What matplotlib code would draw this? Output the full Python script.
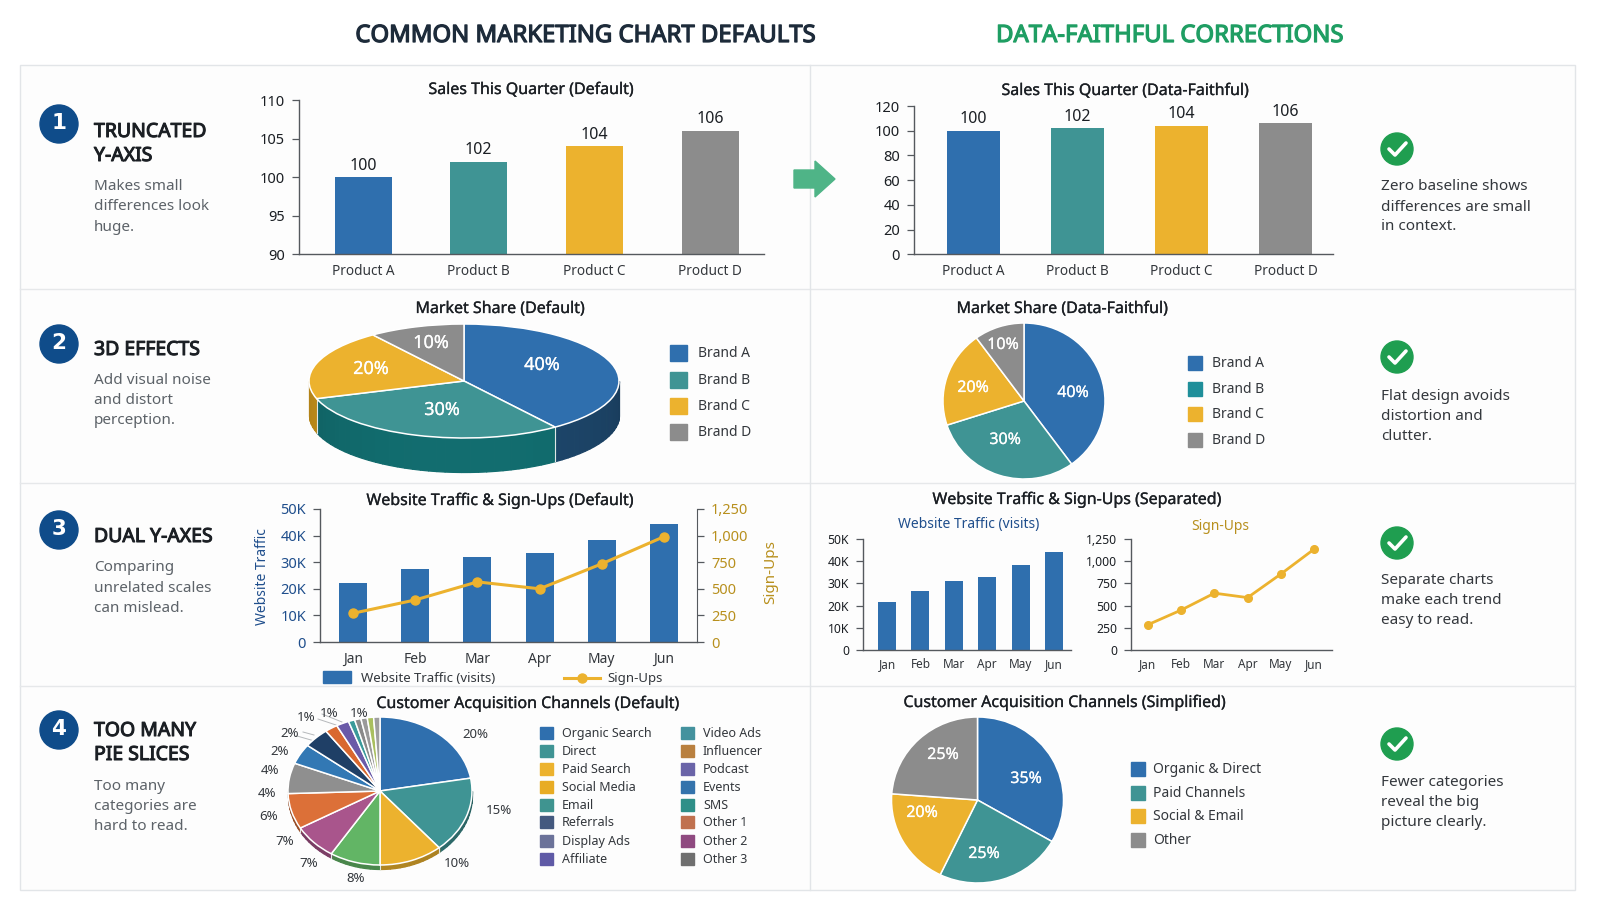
"""Four-row comparison sheet: common marketing chart defaults next to corrected versions."""

import matplotlib
matplotlib.use("Agg")
import matplotlib.patheffects as pe
import matplotlib.pyplot as plt
import numpy as np
from matplotlib.colors import to_rgb
from matplotlib.patches import Circle, Polygon, Rectangle

plt.rcParams["font.family"] = ["Noto Sans", "DejaVu Sans"]

W, H = 1600, 905

BLUE = "#2f6fae"
TEAL = "#3f9494"
YELLOW = "#ecb22e"
GRAY = "#8c8c8c"
NAVY = "#1f4e8c"
GOLD = "#b8901e"
INK = "#1b1f24"
MUTED = "#5c6268"
AXIS = "#55595e"

products = ["Product A", "Product B", "Product C", "Product D"]
sales = [100, 102, 104, 106]
product_colors = [BLUE, TEAL, YELLOW, GRAY]

brands = ["Brand A", "Brand B", "Brand C", "Brand D"]
brand_share = [40, 30, 20, 10]
brand_colors = [BLUE, TEAL, YELLOW, GRAY]
brand_sides = ["#1c4467", "#11696b", "#c4901a", "#6d6d6d"]
brand_legend = [BLUE, "#1f8f9a", YELLOW, GRAY]

months = ["Jan", "Feb", "Mar", "Apr", "May", "Jun"]
traffic_default = [22000, 27500, 32000, 33500, 38500, 44500]
signups_default = [270, 395, 565, 500, 735, 990]
traffic_separate = [21500, 26700, 31300, 33000, 38500, 44200]
signups_separate = [285, 450, 640, 590, 855, 1135]
traffic_ticks = [0, 10000, 20000, 30000, 40000, 50000]
traffic_ticklabels = ["0", "10K", "20K", "30K", "40K", "50K"]
signup_ticks = [0, 250, 500, 750, 1000, 1250]
signup_ticklabels = ["0", "250", "500", "750", "1,000", "1,250"]

channels = ["Organic Search", "Direct", "Paid Search", "Social Media", "Email", "Referrals",
            "Display Ads", "Affiliate", "Video Ads", "Influencer", "Podcast", "Events",
            "SMS", "Other 1", "Other 2", "Other 3"]
channel_legend = ["#2f6fae", "#3f9494", "#ecb22e", "#e8ac24", "#3f9490", "#44597f",
                  "#6b7299", "#5f5aa6", "#44929e", "#b9803f", "#6a64a8", "#3473ac",
                  "#2f8f88", "#c0714f", "#8f4a80", "#6f6f6f"]
channel_share = [20, 15, 10, 8, 7, 7, 6, 4, 4, 2, 2, 1, 1, 1, 1, 1]
channel_colors = ["#2f6fae", "#3f9494", "#ecb22e", "#62b565", "#a9558c", "#dc7038",
                  "#8f8f8f", "#3278b4", "#1f3f66", "#d9682f", "#6a5aa8", "#3a9a9a",
                  "#8a8a8a", "#9a9a9a", "#a9bf5f", "#9f9f9f"]
channel_labelled = 14

simple_channels = ["Organic & Direct", "Paid Channels", "Social & Email", "Other"]
simple_share = [35, 25, 20, 25]
simple_colors = [BLUE, TEAL, YELLOW, GRAY]

row_titles = [["TRUNCATED", "Y-AXIS"], ["3D EFFECTS"], ["DUAL Y-AXES"], ["TOO MANY", "PIE SLICES"]]
row_notes = [["Makes small", "differences look", "huge."],
             ["Add visual noise", "and distort", "perception."],
             ["Comparing", "unrelated scales", "can mislead."],
             ["Too many", "categories are", "hard to read."]]
fix_notes = [["Zero baseline shows", "differences are small", "in context."],
             ["Flat design avoids", "distortion and", "clutter."],
             ["Separate charts", "make each trend", "easy to read."],
             ["Fewer categories", "reveal the big", "picture clearly."]]

# the installed Noto Sans has one weight, so a thin stroke stands in for heavier text
MEDIUM = [pe.withStroke(linewidth=0.2, foreground=INK)]
MEDIUM_WHITE = [pe.withStroke(linewidth=0.15, foreground="white")]
HEADING = [pe.withStroke(linewidth=0.75, foreground=INK)]


def panel(fig, x0, y0, x1, y1):
    """Add axes from pixel corners, y measured down from the top of the figure."""
    return fig.add_axes([x0 / W, 1 - y1 / H, (x1 - x0) / W, (y1 - y0) / H])


def style_axis(ax, size=10.5, color=INK):
    for side in ("top", "right"):
        ax.spines[side].set_visible(False)
    for side in ("left", "bottom"):
        ax.spines[side].set_color(AXIS)
        ax.spines[side].set_linewidth(1.0)
    ax.patch.set_alpha(0)
    ax.tick_params(axis="y", length=5, width=0.9, color=AXIS, labelsize=size, labelcolor=color, pad=5)
    ax.tick_params(axis="x", length=0, labelsize=9.5, labelcolor="#33373c", pad=6)


def sales_bars(fig, rect, centers, width_px, ylim, yticks):
    ax = panel(fig, *rect)
    pitch = (centers[-1] - centers[0]) / 3
    ax.bar(range(4), sales, width=width_px / pitch, color=product_colors, zorder=2)
    ax.set_xlim((rect[0] - centers[0]) / pitch, (rect[2] - centers[0]) / pitch)
    ax.set_ylim(*ylim)
    ax.set_yticks(yticks)
    ax.set_xticks(range(4), products)
    style_axis(ax)
    ax.tick_params(axis="x", labelsize=9.8, pad=7)
    for i, value in enumerate(sales):
        ax.annotate(str(value), (i, value), xytext=(0, 2.5), textcoords="offset points",
                    ha="center", va="bottom", fontsize=11.5, color=INK)
    return ax


def month_axes(fig, rect, centers):
    ax = panel(fig, *rect)
    pitch = (centers[-1] - centers[0]) / 5
    ax.set_xlim((rect[0] - centers[0]) / pitch, (rect[2] - centers[0]) / pitch)
    ax.set_xticks(range(6), months)
    return ax, pitch


def draw_side(ax, shares, colors, depth):
    """Extrude the lower half of an elliptical pie downwards in short shaded strips."""
    edges = 90 - np.cumsum([0] + list(shares)) / sum(shares) * 360
    for start, stop, color in zip(edges[:-1], edges[1:], colors):
        base = np.array(to_rgb(color))
        # wrap so that the front of the pie lies between -180 and 0 degrees
        for a, b in ((stop, start), (stop + 360, start + 360), (stop - 360, start - 360)):
            lo, hi = max(a, -180), min(b, 0)
            if hi <= lo:
                continue
            steps = np.linspace(lo, hi, max(int((hi - lo) / 3), 1) + 1)
            for t0, t1 in zip(steps[:-1], steps[1:]):
                t = np.radians(np.linspace(t0, t1, 5))
                shade = 0.9 + 0.14 * np.sin(np.radians((t0 + t1) / 2 + 180))
                ax.fill_between(np.cos(t), np.sin(t), np.sin(t) - depth, color=np.clip(base * shade, 0, 1),
                                lw=0.9, zorder=0.5, clip_on=False)
            if lo > -180:
                ax.plot([np.cos(np.radians(lo))] * 2, [np.sin(np.radians(lo)), np.sin(np.radians(lo)) - depth],
                        color="#dfe6e6", lw=0.8, zorder=0.6, clip_on=False)


def flat_pie(ax, shares, colors):
    ax.pie(shares, colors=colors, startangle=90, counterclock=False, radius=1,
           wedgeprops={"edgecolor": "white", "linewidth": 1.1}, normalize=True)
    ax.set_aspect("auto")
    ax.set_xlim(-1, 1)
    ax.set_ylim(-1, 1)


def main():
    fig = plt.figure(figsize=(W / 100, H / 100), dpi=100, facecolor="white")

    base = fig.add_axes([0, 0, 1, 1], zorder=0)
    base.set_xlim(0, W)
    base.set_ylim(H, 0)
    base.axis("off")

    # second full-sheet layer for text that sits on top of the pies
    top = fig.add_axes([0, 0, 1, 1], zorder=10)
    top.set_xlim(0, W)
    top.set_ylim(H, 0)
    top.axis("off")
    top.patch.set_alpha(0)

    # Sheet outline and row/column rules
    base.add_patch(Rectangle((20, 65), 1555, 825, facecolor="#fdfdfd", edgecolor="#e2e5e8", lw=1))
    for y in (289, 483, 686):
        base.plot([20, 1575], [y, y], color="#e6e8ea", lw=1)
    base.plot([810, 810], [65, 890], color="#e2e5e8", lw=1)

    base.text(586, 36, "COMMON MARKETING CHART DEFAULTS", ha="center", va="center",
              fontsize=17.2, color="#1d2b3a", path_effects=[pe.withStroke(linewidth=0.9, foreground="#1d2b3a")])
    base.text(1170, 36, "DATA-FAITHFUL CORRECTIONS", ha="center", va="center",
              fontsize=17.2, color="#1f9e63", path_effects=[pe.withStroke(linewidth=0.9, foreground="#1f9e63")])

    # Left-hand row descriptions
    badge_y = [124, 344, 530, 730]
    title_y = [[132, 156], [350], [537], [731, 755]]
    note_y = [[186, 206, 227], [380, 400, 420], [567, 588, 608], [786, 806, 826]]
    for i in range(4):
        base.add_patch(Circle((59, badge_y[i]), 19, color="#0f4c8a"))
        base.text(59, badge_y[i] - 1, str(i + 1), ha="center", va="center", color="white",
                  fontsize=15.5, fontweight="bold", family="DejaVu Sans")
        for line, y in zip(row_titles[i], title_y[i]):
            base.text(94, y, line, ha="left", va="center", fontsize=14, color=INK, path_effects=HEADING)
        for line, y in zip(row_notes[i], note_y[i]):
            base.text(94, y, line, ha="left", va="center", fontsize=11, color=MUTED)

    # Right-hand notes with check badges
    check_y = [149, 357, 543, 744]
    fix_y = [[187, 207, 226], [396, 416, 436], [580, 600, 620], [782, 802, 822]]
    for i in range(4):
        cy = check_y[i]
        base.add_patch(Circle((1397, cy), 16, color="#1f9e50"))
        base.plot([1389, 1395, 1406], [cy, cy + 6, cy - 6], color="white", lw=2.6,
                  solid_capstyle="round", solid_joinstyle="round")
        for line, y in zip(fix_notes[i], fix_y[i]):
            base.text(1381, y, line, ha="left", va="center", fontsize=11, color="#33373c")

    # Arrow between the two columns of the first row
    base.add_patch(Polygon([(794, 170), (815, 170), (815, 161), (835, 179), (815, 197), (815, 188), (794, 188)],
                           closed=True, color="#4fb487", zorder=4))

    def chart_title(x, y, text):
        base.text(x, y, text, ha="center", va="center", fontsize=11.5, color=INK, path_effects=MEDIUM)

    # Row 1: bar charts
    chart_title(531, 90, "Sales This Quarter (Default)")
    sales_bars(fig, (299, 100, 764, 254), [363, 479, 595, 710], 57, (90, 110), [90, 95, 100, 105, 110])
    chart_title(1125, 91, "Sales This Quarter (Data-Faithful)")
    sales_bars(fig, (914, 106, 1333, 254.5), [973.5, 1077.6, 1181.6, 1285.7], 53, (0, 120),
               [0, 20, 40, 60, 80, 100, 120])

    # Row 2: extruded pie against a flat one
    chart_title(500, 309, "Market Share (Default)")
    rx, ry, depth_px = 155, 57, 34
    ax = panel(fig, 464 - rx, 381 - ry, 464 + rx, 381 + ry + depth_px)
    flat_pie(ax, brand_share, brand_colors)
    depth = depth_px / ry
    draw_side(ax, brand_share, brand_sides, depth)
    ax.set_xlim(-1, 1)
    ax.set_ylim(-1 - depth, 1)
    for value, (x, y) in zip(brand_share, [(542, 365), (442, 410), (371, 369), (431, 343)]):
        top.text(x, y, f"{value}%", ha="center", va="center", color="white", fontsize=13,
                 path_effects=MEDIUM_WHITE)

    for name, color, y in zip(brands, brand_colors, [353, 380, 406, 432]):
        base.add_patch(Rectangle((670, y - 8), 17, 16, color=color))
        base.text(698, y, name, ha="left", va="center", fontsize=10, color="#33373c")

    chart_title(1062, 309, "Market Share (Data-Faithful)")
    ax = panel(fig, 1024 - 81, 401 - 78, 1024 + 81, 401 + 78)
    flat_pie(ax, brand_share, brand_colors)
    for value, (x, y) in zip(brand_share, [(1073, 393), (1005, 440), (973, 388), (1003, 345)]):
        top.text(x, y, f"{value}%", ha="center", va="center", color="white", fontsize=11.5,
                 path_effects=MEDIUM_WHITE)

    for name, color, y in zip(brands, brand_legend, [363, 389, 414, 440]):
        base.add_patch(Rectangle((1188, y - 7), 14, 14, color=color))
        base.text(1212, y, name, ha="left", va="center", fontsize=10, color="#33373c")

    # Row 3, default: one panel with two y-axes
    chart_title(500, 501, "Website Traffic & Sign-Ups (Default)")
    ax, pitch = month_axes(fig, (320, 509, 697, 642), [353, 415, 477.5, 539, 601, 664])
    ax.bar(range(6), traffic_default, width=28 / pitch, color=BLUE, zorder=2)
    ax.set_ylim(0, 50000)
    ax.set_yticks(traffic_ticks, traffic_ticklabels)
    style_axis(ax, size=10.5, color=NAVY)
    ax.tick_params(axis="x", labelsize=10, pad=7)
    ax.set_ylabel("Website Traffic", color=NAVY, fontsize=10)
    ax.yaxis.set_label_coords(-0.132, 0.49)

    twin = ax.twinx()
    twin.plot(range(6), signups_default, color=YELLOW, lw=2.2, marker="o", ms=6.5, zorder=5)
    twin.set_ylim(0, 1250)
    twin.set_yticks(signup_ticks, signup_ticklabels)
    twin.patch.set_alpha(0)
    for side in ("top", "left", "bottom"):
        twin.spines[side].set_visible(False)
    twin.spines["right"].set_color(AXIS)
    twin.tick_params(axis="y", length=5, width=0.9, color=AXIS, labelsize=10.5, labelcolor=GOLD, pad=5)
    twin.set_ylabel("Sign-Ups", color=GOLD, fontsize=11)
    twin.yaxis.set_label_coords(1.177, 0.526)

    base.add_patch(Rectangle((323, 671), 28, 12, color=BLUE))
    base.text(361, 678.5, "Website Traffic (visits)", ha="left", va="center", fontsize=9.5, color="#33373c")
    base.plot([564, 600], [677.5, 677.5], color=YELLOW, lw=2.2)
    base.plot([582], [677.5], color=YELLOW, marker="o", ms=6.5)
    base.text(607, 678.5, "Sign-Ups", ha="left", va="center", fontsize=9.5, color="#33373c")

    # Row 3, corrected: two separate panels
    chart_title(1077, 500, "Website Traffic & Sign-Ups (Separated)")
    base.text(969, 524, "Website Traffic (visits)", ha="center", va="center", fontsize=10, color=NAVY)
    base.text(1220, 526, "Sign-Ups", ha="center", va="center", fontsize=10, color=GOLD)

    ax, pitch = month_axes(fig, (863, 539, 1071, 650), [887, 920, 953, 987, 1020, 1054])
    ax.bar(range(6), traffic_separate, width=18 / pitch, color=BLUE, zorder=2)
    ax.set_ylim(0, 50000)
    ax.set_yticks(traffic_ticks, traffic_ticklabels)
    style_axis(ax, size=8.8)
    ax.tick_params(axis="x", labelsize=8.5, pad=5.5)

    ax, pitch = month_axes(fig, (1131, 539, 1332, 650), [1148, 1181, 1213, 1247, 1281, 1314])
    ax.plot(range(6), signups_separate, color=YELLOW, lw=2, marker="o", ms=5.5, zorder=3)
    ax.set_ylim(0, 1250)
    ax.set_yticks(signup_ticks, signup_ticklabels)
    style_axis(ax, size=8.8)
    ax.tick_params(axis="x", labelsize=8.5, pad=5.5)

    # Row 4: crowded pie with outside labels and a two-column legend
    chart_title(528, 704, "Customer Acquisition Channels (Default)")
    rx, ry, depth_px = 92, 74, 4
    ax = panel(fig, 380 - rx, 791 - ry, 380 + rx, 791 + ry + depth_px)
    flat_pie(ax, channel_share, channel_colors)
    depth = depth_px / ry
    draw_side(ax, channel_share, [np.array(to_rgb(c)) * 0.72 for c in channel_colors], depth)
    ax.set_xlim(-1, 1)
    ax.set_ylim(-1 - depth, 1)

    label_xy = [(475, 734), (499, 810), (457, 863), (356, 878), (309, 863), (285, 841), (269, 816),
                (267, 793), (270, 770), (280, 751), (290, 733), (306, 717), (329, 713), (359, 713)]
    for value, (x, y) in zip(channel_share[:channel_labelled], label_xy):
        base.text(x, y, f"{value}%", ha="center", va="center", fontsize=9.5, color="#33373c", zorder=3)
    for x0, y0, x1, y1 in [(297, 736, 318, 742), (303, 732, 314, 735), (318, 719, 336, 725),
                           (322, 714, 342, 722)]:
        base.plot([x0, x1], [y0, y1], color="#b5b8bb", lw=0.7)

    legend_y = [733, 751, 769, 787, 805, 822, 841, 859]
    for i, (name, color) in enumerate(zip(channels, channel_legend)):
        sx, tx = (540, 562) if i < 8 else (681, 703)
        y = legend_y[i % 8]
        base.add_patch(Rectangle((sx, y - 6), 13, 12, color=color))
        base.text(tx, y, name, ha="left", va="center", fontsize=9, color="#33373c")

    chart_title(1065, 703, "Customer Acquisition Channels (Simplified)")
    ax = panel(fig, 977.5 - 86, 800 - 83, 977.5 + 86, 800 + 83)
    flat_pie(ax, simple_share, simple_colors)
    for value, (x, y) in zip(simple_share, [(1026, 779), (984, 854), (922, 813), (943, 755)]):
        top.text(x, y, f"{value}%", ha="center", va="center", color="white", fontsize=11.5,
                 path_effects=MEDIUM_WHITE)

    for name, color, y in zip(simple_channels, simple_colors, [769, 793, 816, 840]):
        base.add_patch(Rectangle((1131, y - 7), 14, 14, color=color))
        base.text(1153, y, name, ha="left", va="center", fontsize=10, color="#33373c")

    fig.savefig("out.png", dpi=100)
    plt.close(fig)


if __name__ == "__main__":
    main()
